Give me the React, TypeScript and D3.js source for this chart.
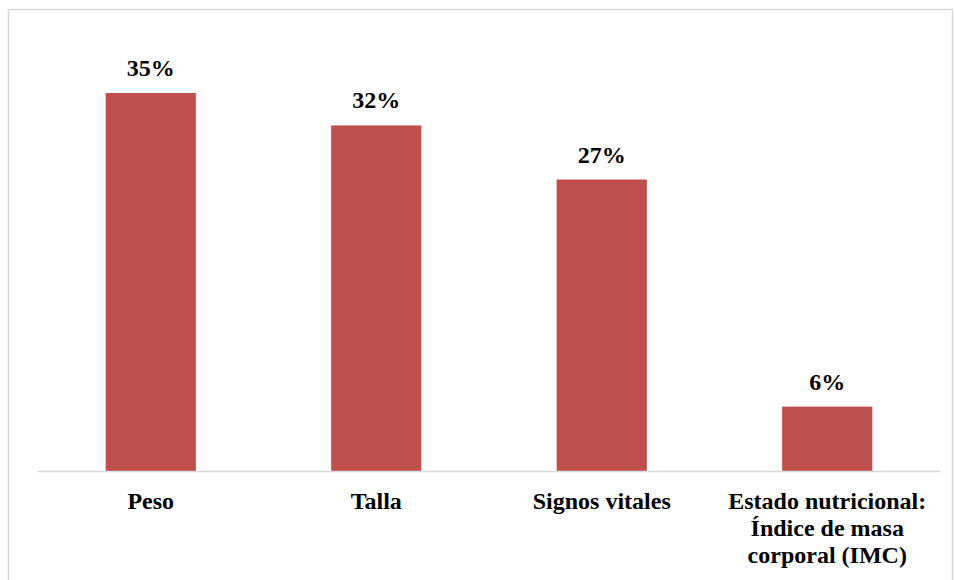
import React from "react";
import * as d3 from "d3";

const categories: string[][] = [
  ["Peso"],
  ["Talla"],
  ["Signos vitales"],
  ["Estado nutricional:", "Índice de masa", "corporal (IMC)"],
];
const values: number[] = [35, 32, 27, 6];
const valueLabels: string[] = ["35%", "32%", "27%", "6%"];

const W = 954;
const H = 580;
const plotLeft = 38;
const plotRight = 940;
const baseY = 471.5;
const topY = 93;
const FONT = "Liberation Serif, Times New Roman, serif";

export default function App() {
  const x = d3
    .scaleBand<number>()
    .domain(values.map((_, i) => i))
    .range([plotLeft, plotRight])
    .padding(0);
  const y = d3.scaleLinear().domain([0, 35]).range([baseY, topY]);
  const barW = x.bandwidth() * 0.4;
  const fs = 24;
  const textStyle: React.CSSProperties = {
    fontFamily: FONT,
    fontWeight: 700,
    fontSize: fs + "px",
  };

  return (
    <svg
      width={W}
      height={H}
      style={{ position: "absolute", left: 0, top: 0, background: "#fff", fontFamily: FONT }}
    >
      <rect x={8.5} y={9.5} width={944} height={620} fill="#fff" stroke="#d9d9d9" strokeWidth={1.5} />
      {values.map((v, i) => {
        const cx = (x(i) as number) + x.bandwidth() / 2;
        return (
          <g key={i}>
            <rect x={cx - barW / 2} y={y(v)} width={barW} height={baseY - y(v)} fill="#C0504D" />
            <text x={cx} y={y(v) - 17} textAnchor="middle" fill="#000" style={textStyle}>
              {valueLabels[i]}
            </text>
            {categories[i].map((line, j) => (
              <text
                key={j}
                x={cx}
                y={baseY + 37 + j * 27}
                textAnchor="middle"
                fill="#000"
                style={textStyle}
              >
                {line}
              </text>
            ))}
          </g>
        );
      })}
      <line x1={plotLeft} x2={plotRight} y1={baseY} y2={baseY} stroke="#d9d9d9" strokeWidth={1.5} />
    </svg>
  );
}
